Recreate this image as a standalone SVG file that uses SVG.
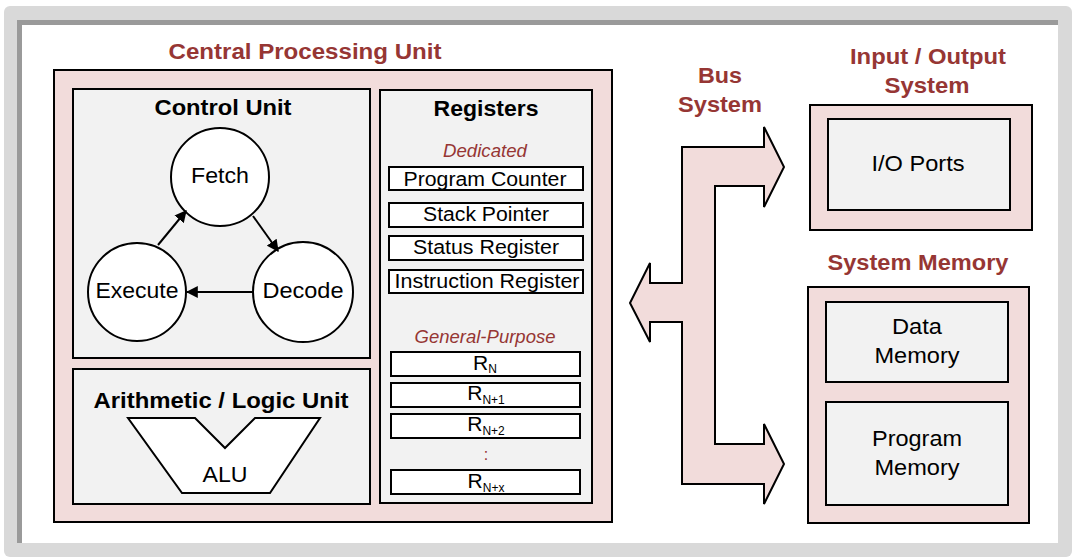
<svg xmlns="http://www.w3.org/2000/svg" width="1075" height="559" viewBox="0 0 1075 559">
<defs>
<style>
.t{font-family:"Liberation Sans",Arial,sans-serif;fill:#000;text-anchor:middle}
.b{font-weight:bold}
.red{fill:#963634}
.it{font-style:italic}
.pink{fill:#f2dcdb;stroke:#000;stroke-width:2}
.grey{fill:#f2f2f2;stroke:#000;stroke-width:2}
.reg{fill:#fff;stroke:#000;stroke-width:2}
.circ{fill:#fff;stroke:#000;stroke-width:2}
.ln{stroke:#000;stroke-width:2;fill:none;marker-end:url(#ah)}
</style>
<marker id="ah" viewBox="0 0 10 10" refX="9" refY="5" markerWidth="6" markerHeight="6" markerUnits="strokeWidth" orient="auto">
<path d="M0,0 L10,5 L0,10 z" fill="#000"/>
</marker>
</defs>
<g id="frame">
<rect x="4" y="6" width="1068" height="551" rx="6" fill="#d9d9d9"/>
<rect x="17" y="20" width="1041" height="523" fill="#9a9a9a"/>
<rect x="22" y="25" width="1036" height="518" fill="#fff"/>
</g>
<g id="cpu">
<text class="t b red" x="305" y="59" font-size="22" textLength="273" lengthAdjust="spacingAndGlyphs">Central Processing Unit</text>
<rect class="pink" x="54" y="70" width="558" height="452"/>
</g>
<g id="control-unit">
<rect class="grey" x="73" y="89" width="297" height="269"/>
<text class="t b" x="223" y="115" font-size="22" textLength="137" lengthAdjust="spacingAndGlyphs">Control Unit</text>
</g>
<g id="fetch">
<circle class="circ" cx="220" cy="177" r="49"/>
<text class="t" x="220" y="183" font-size="22" textLength="58" lengthAdjust="spacingAndGlyphs">Fetch</text>
</g>
<g id="execute">
<circle class="circ" cx="137" cy="292" r="49"/>
<text class="t" x="137" y="298" font-size="22" textLength="83" lengthAdjust="spacingAndGlyphs">Execute</text>
</g>
<g id="decode">
<circle class="circ" cx="303" cy="292" r="50"/>
<text class="t" x="303" y="298" font-size="22" textLength="81" lengthAdjust="spacingAndGlyphs">Decode</text>
</g>
<g id="alu">
<rect class="grey" x="73" y="369" width="297" height="135"/>
<text class="t b" x="221" y="408" font-size="22" textLength="255" lengthAdjust="spacingAndGlyphs">Arithmetic / Logic Unit</text>
<polygon points="128,418 195,418 225,448 255,418 320,418 270,493 182,493" fill="#fff" stroke="#000" stroke-width="2"/>
<text class="t" x="225" y="482" font-size="22" textLength="45" lengthAdjust="spacingAndGlyphs">ALU</text>
</g>
<g id="registers">
<rect class="grey" x="380" y="90" width="212" height="413"/>
<text class="t b" x="486" y="116" font-size="22" textLength="105" lengthAdjust="spacingAndGlyphs">Registers</text>
<text class="t it red" x="485" y="157" font-size="18" textLength="84" lengthAdjust="spacingAndGlyphs">Dedicated</text>
<rect class="reg" x="389" y="167" width="194" height="23"/>
<text class="t" x="485" y="186" font-size="20" textLength="163" lengthAdjust="spacingAndGlyphs">Program Counter</text>
<rect class="reg" x="389" y="203" width="194" height="24"/>
<text class="t" x="486" y="221" font-size="20" textLength="126" lengthAdjust="spacingAndGlyphs">Stack Pointer</text>
<rect class="reg" x="389" y="236" width="194" height="24"/>
<text class="t" x="486" y="254" font-size="20" textLength="146" lengthAdjust="spacingAndGlyphs">Status Register</text>
<rect class="reg" x="389" y="270" width="194" height="23"/>
<text class="t" x="487" y="288" font-size="20" textLength="185" lengthAdjust="spacingAndGlyphs">Instruction Register</text>
<text class="t it red" x="485" y="343" font-size="18" textLength="141" lengthAdjust="spacingAndGlyphs">General-Purpose</text>
<rect class="reg" x="391" y="352" width="189" height="24"/>
<text class="t" x="485" y="370" font-size="21" text-anchor="middle">R<tspan font-size="12" dy="3">N</tspan></text>
<rect class="reg" x="391" y="383" width="189" height="24"/>
<text class="t" x="486" y="400" font-size="21">R<tspan font-size="12" dy="4">N+1</tspan></text>
<rect class="reg" x="391" y="414" width="189" height="24"/>
<text class="t" x="486" y="431" font-size="21">R<tspan font-size="12" dy="4">N+2</tspan></text>
<text class="t red" x="486" y="460" font-size="16">:</text>
<rect class="reg" x="391" y="470" width="189" height="24"/>
<text class="t" x="486" y="488" font-size="21">R<tspan font-size="12" dy="4">N+x</tspan></text>
</g>
<g id="bus-label">
<text class="t b red" x="720" y="83" font-size="22" textLength="44" lengthAdjust="spacingAndGlyphs">Bus</text>
<text class="t b red" x="720" y="112" font-size="22" textLength="84" lengthAdjust="spacingAndGlyphs">System</text>
</g>
<g id="io-system">
<text class="t b red" x="928" y="64" font-size="22" textLength="156" lengthAdjust="spacingAndGlyphs">Input / Output</text>
<text class="t b red" x="927" y="93" font-size="22" textLength="85" lengthAdjust="spacingAndGlyphs">System</text>
<rect class="pink" x="810" y="105" width="222" height="125"/>
<rect class="grey" x="828" y="119" width="182" height="91"/>
<text class="t" x="918" y="171" font-size="22" textLength="93" lengthAdjust="spacingAndGlyphs">I/O Ports</text>
</g>
<g id="system-memory">
<text class="t b red" x="918" y="270" font-size="22" textLength="181" lengthAdjust="spacingAndGlyphs">System Memory</text>
<rect class="pink" x="808" y="287" width="221" height="236"/>
</g>
<g id="data-memory">
<rect class="grey" x="826" y="302" width="182" height="80"/>
<text class="t" x="917" y="334" font-size="22" textLength="50" lengthAdjust="spacingAndGlyphs">Data</text>
<text class="t" x="917" y="363" font-size="22" textLength="85" lengthAdjust="spacingAndGlyphs">Memory</text>
</g>
<g id="program-memory">
<rect class="grey" x="826" y="402" width="182" height="103"/>
<text class="t" x="917" y="446" font-size="22" textLength="90" lengthAdjust="spacingAndGlyphs">Program</text>
<text class="t" x="917" y="475" font-size="22" textLength="85" lengthAdjust="spacingAndGlyphs">Memory</text>
</g>
<g id="connectors">
<line class="ln" x1="158" y1="245" x2="186" y2="211"/>
<line class="ln" x1="253" y1="216" x2="278" y2="251"/>
<line class="ln" x1="253" y1="292" x2="187" y2="292"/>
<path id="bus" d="M682,147 L764,147 L764,127 L784,167 L764,207 L764,186 L715,186 L715,444 L764,444 L764,424 L784,464 L764,504 L764,484 L682,484 L682,322 L650,322 L650,342 L630,303 L650,263 L650,283 L682,283 Z" fill="#f2dcdb" stroke="#000" stroke-width="2" stroke-linejoin="miter"/>
</g>
</svg>
